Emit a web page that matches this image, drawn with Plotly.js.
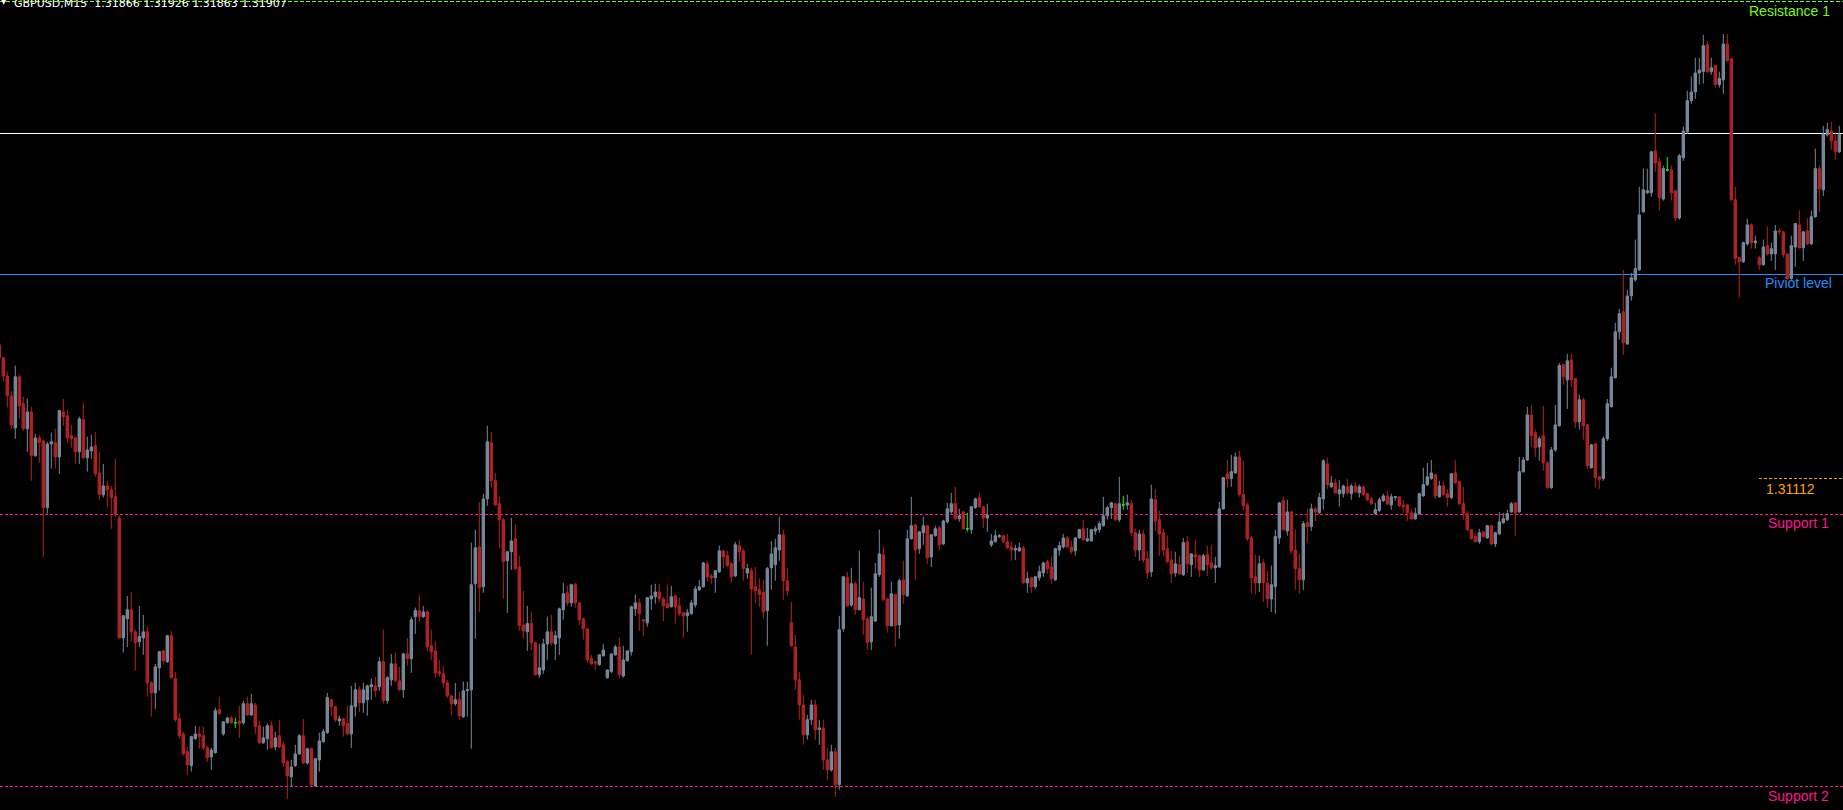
<!DOCTYPE html>
<html>
<head>
<meta charset="utf-8">
<script src="https://cdn.plot.ly/plotly-3.0.1.min.js"></script>
<style>
  html, body { margin: 0; padding: 0; background: #000; overflow: hidden; }
  #chart { width: 1843px; height: 810px; }
  #chart .shapelayer path { shape-rendering: crispEdges; }
</style>
</head>
<body>
<div id="chart"></div>
<script>
// GBPUSD M15 bars, oldest first (the first bar is only partly on screen)
const symbolTitle = 'GBPUSD,M15\u00a0\u00a01.31866 1.31926 1.31863 1.31907';

const openPrice = [
1.31420,1.31390,1.31348,1.31302,1.31228,1.31346,1.31284,1.31226,1.31265,1.31164,
1.31205,1.31198,1.31044,1.31191,1.31194,1.31161,1.31265,1.31256,1.31210,1.31205,
1.31173,1.31247,1.31159,1.31175,1.31187,1.31124,1.31074,1.31094,1.31085,1.31069,
1.31020,1.30743,1.30787,1.30808,1.30757,1.30734,1.30743,1.30757,1.30639,1.30616,
1.30674,1.30713,1.30688,1.30748,1.30649,1.30556,1.30521,1.30480,1.30448,1.30510,
1.30521,1.30517,1.30489,1.30468,1.30478,1.30577,1.30521,1.30547,1.30558,1.30547,
1.30551,1.30547,1.30591,1.30565,1.30588,1.30540,1.30501,1.30510,1.30540,1.30491,
1.30517,1.30496,1.30457,1.30422,1.30448,1.30475,1.30517,1.30454,1.30487,1.30401,
1.30461,1.30503,1.30524,1.30600,1.30584,1.30551,1.30556,1.30545,1.30521,1.30584,
1.30623,1.30593,1.30600,1.30630,1.30632,1.30630,1.30688,1.30598,1.30646,1.30683,
1.30644,1.30623,1.30706,1.30695,1.30792,1.30806,1.30792,1.30803,1.30725,1.30713,
1.30665,1.30660,1.30639,1.30609,1.30591,1.30600,1.30561,1.30621,1.30623,1.30868,
1.30953,1.30861,1.31064,1.31194,1.31106,1.31053,1.31016,1.30921,1.30942,1.30972,
1.30907,1.30773,1.30757,1.30776,1.30732,1.30658,1.30669,1.30729,1.30757,1.30729,
1.30743,1.30808,1.30847,1.30824,1.30866,1.30824,1.30787,1.30764,1.30695,1.30688,
1.30681,1.30702,1.30651,1.30665,1.30704,1.30722,1.30655,1.30690,1.30711,1.30810,
1.30824,1.30785,1.30778,1.30833,1.30838,1.30849,1.30833,1.30822,1.30815,1.30840,
1.30817,1.30801,1.30794,1.30799,1.30819,1.30854,1.30861,1.30914,1.30886,1.30882,
1.30896,1.30944,1.30933,1.30914,1.30886,1.30956,1.30944,1.30893,1.30898,1.30861,
1.30854,1.30849,1.30806,1.30905,1.30912,1.30946,1.30981,1.30875,1.30778,1.30722,
1.30646,1.30588,1.30519,1.30554,1.30588,1.30531,1.30535,1.30461,1.30438,1.30480,
1.30404,1.30764,1.30882,1.30819,1.30868,1.30808,1.30833,1.30787,1.30734,1.30782,
1.30889,1.30935,1.30833,1.30771,1.30843,1.30773,1.30877,1.30840,1.30972,1.31004,
1.30949,1.30986,1.31002,1.30930,1.30979,1.30997,1.30960,1.31011,1.31034,1.31053,
1.31018,1.31034,1.30995,1.30993,1.31044,1.31067,1.31046,1.31020,1.30958,1.30965,
1.30977,1.30979,1.30965,1.30953,1.30946,1.30944,1.30951,1.30870,1.30882,1.30861,
1.30882,1.30893,1.30919,1.30907,1.30877,1.30946,1.30953,1.30974,1.30953,1.30944,
1.30974,1.30995,1.30967,1.30967,1.30990,1.30993,1.31002,1.31025,1.31044,1.31053,
1.31016,1.31050,1.31050,1.31053,1.30986,1.30946,1.30983,1.30926,1.30896,1.31062,
1.31016,1.30986,1.30949,1.30923,1.30893,1.30912,1.30889,1.30965,1.30912,1.30935,
1.30933,1.30900,1.30935,1.30916,1.30905,1.30907,1.31041,1.31122,1.31111,1.31124,
1.31161,1.31074,1.31050,1.30974,1.30884,1.30870,1.30916,1.30870,1.30833,1.30861,
1.30974,1.31060,1.30990,1.31034,1.30946,1.30903,1.30877,1.31009,1.31000,1.31041,
1.31032,1.31064,1.31145,1.31092,1.31101,1.31076,1.31076,1.31092,1.31076,1.31094,
1.31078,1.31092,1.31076,1.31064,1.31030,1.31037,1.31060,1.31071,1.31050,1.31067,
1.31069,1.31050,1.31050,1.31032,1.31018,1.31030,1.31071,1.31097,1.31111,1.31120,
1.31069,1.31094,1.31076,1.31067,1.31124,1.31104,1.31053,1.31030,1.30993,1.30977,
1.30965,1.30988,1.30974,1.31002,1.30960,1.30983,1.31009,1.31016,1.31034,1.31055,
1.31034,1.31127,1.31154,1.31258,1.31217,1.31184,1.31210,1.31147,1.31090,1.31177,
1.31233,1.31374,1.31339,1.31385,1.31342,1.31242,1.31293,1.31235,1.31136,1.31191,
1.31115,1.31111,1.31203,1.31277,1.31344,1.31450,1.31496,1.31422,1.31533,1.31570,
1.31593,1.31727,1.31771,1.31771,1.31868,1.31843,1.31757,1.31824,1.31824,1.31776,
1.31713,1.31852,1.31912,1.31984,1.32004,1.32048,1.32051,1.32113,1.32051,1.32065,
1.32021,1.32032,1.32115,1.32081,1.31755,1.31621,1.31612,1.31653,1.31697,1.31656,
1.31621,1.31605,1.31649,1.31630,1.31630,1.31683,1.31681,1.31630,1.31573,1.31646,
1.31697,1.31644,1.31683,1.31653,1.31716,1.31827,1.31778,1.31905,1.31914,1.31891,
1.31866
];

const highPrice = [
1.31425,1.31392,1.31358,1.31314,1.31372,1.31351,1.31300,1.31295,1.31277,1.31214,
1.31212,1.31201,1.31196,1.31217,1.31226,1.31270,1.31295,1.31270,1.31235,1.31208,
1.31254,1.31286,1.31208,1.31212,1.31219,1.31173,1.31145,1.31106,1.31094,1.31157,
1.31025,1.30796,1.30840,1.30849,1.30762,1.30817,1.30796,1.30769,1.30644,1.30683,
1.30713,1.30715,1.30750,1.30759,1.30665,1.30570,1.30526,1.30491,1.30517,1.30540,
1.30538,1.30538,1.30494,1.30489,1.30582,1.30607,1.30551,1.30561,1.30563,1.30558,
1.30586,1.30598,1.30607,1.30614,1.30593,1.30551,1.30538,1.30545,1.30551,1.30526,
1.30554,1.30503,1.30461,1.30461,1.30496,1.30521,1.30556,1.30489,1.30489,1.30466,
1.30524,1.30533,1.30616,1.30602,1.30586,1.30563,1.30558,1.30586,1.30632,1.30639,
1.30632,1.30639,1.30635,1.30649,1.30653,1.30699,1.30762,1.30655,1.30706,1.30709,
1.30676,1.30709,1.30743,1.30792,1.30813,1.30843,1.30817,1.30808,1.30762,1.30736,
1.30692,1.30679,1.30646,1.30612,1.30639,1.30618,1.30642,1.30642,1.30963,1.30993,
1.31057,1.31076,1.31233,1.31219,1.31124,1.31071,1.31020,1.30944,1.31020,1.31007,
1.30933,1.30852,1.30817,1.30803,1.30734,1.30729,1.30741,1.30792,1.30796,1.30759,
1.30813,1.30870,1.30863,1.30868,1.30870,1.30826,1.30789,1.30766,1.30704,1.30690,
1.30704,1.30729,1.30669,1.30706,1.30727,1.30743,1.30725,1.30713,1.30817,1.30843,
1.30833,1.30787,1.30836,1.30866,1.30868,1.30868,1.30838,1.30866,1.30863,1.30843,
1.30836,1.30803,1.30810,1.30831,1.30863,1.30877,1.30919,1.30921,1.30891,1.30900,
1.30956,1.30946,1.30944,1.30919,1.30965,1.30970,1.30949,1.30914,1.30905,1.30907,
1.30880,1.30877,1.30907,1.30967,1.30972,1.31023,1.30993,1.30905,1.30826,1.30750,
1.30665,1.30612,1.30565,1.30600,1.30600,1.30554,1.30554,1.30489,1.30496,1.30489,
1.30794,1.30886,1.30896,1.30905,1.30873,1.30944,1.30873,1.30792,1.30859,1.30916,
1.30993,1.30953,1.30836,1.30873,1.30845,1.30880,1.30921,1.30993,1.31069,1.31007,
1.30990,1.31023,1.31004,1.30983,1.31002,1.31002,1.31016,1.31055,1.31078,1.31092,
1.31041,1.31037,1.31032,1.31048,1.31067,1.31078,1.31048,1.31053,1.30983,1.30993,
1.30983,1.30981,1.30983,1.30967,1.30958,1.30963,1.30956,1.30896,1.30884,1.30886,
1.30910,1.30919,1.30923,1.30930,1.30951,1.30965,1.30983,1.30979,1.30967,1.30976,
1.30995,1.31016,1.30997,1.30995,1.31002,1.31013,1.31069,1.31048,1.31057,1.31055,
1.31115,1.31071,1.31074,1.31062,1.30995,1.30993,1.30993,1.30944,1.31097,1.31087,
1.31037,1.30995,1.30979,1.30944,1.30942,1.30933,1.30974,1.30979,1.30939,1.30970,
1.30935,1.30937,1.30956,1.30958,1.30930,1.31057,1.31115,1.31154,1.31166,1.31171,
1.31175,1.31152,1.31055,1.30979,1.30935,1.30933,1.30926,1.30898,1.30910,1.30993,
1.31057,1.31069,1.31062,1.31037,1.30993,1.30937,1.31013,1.31041,1.31053,1.31046,
1.31078,1.31156,1.31159,1.31117,1.31111,1.31108,1.31097,1.31111,1.31099,1.31104,
1.31097,1.31094,1.31078,1.31069,1.31055,1.31067,1.31076,1.31083,1.31076,1.31071,
1.31071,1.31062,1.31053,1.31041,1.31044,1.31078,1.31136,1.31147,1.31154,1.31122,
1.31106,1.31106,1.31087,1.31124,1.31154,1.31106,1.31092,1.31037,1.30995,1.30986,
1.30995,1.30990,1.31004,1.31004,1.30988,1.31034,1.31032,1.31039,1.31057,1.31057,
1.31161,1.31161,1.31277,1.31281,1.31224,1.31208,1.31279,1.31152,1.31184,1.31281,
1.31378,1.31376,1.31399,1.31399,1.31344,1.31305,1.31298,1.31238,1.31191,1.31194,
1.31117,1.31208,1.31295,1.31367,1.31471,1.31503,1.31593,1.31547,1.31586,1.31663,
1.31785,1.31827,1.31827,1.31868,1.31954,1.31852,1.31834,1.31854,1.31834,1.31778,
1.31861,1.31924,1.32007,1.32039,1.32083,1.32083,1.32136,1.32122,1.32083,1.32067,
1.32051,1.32138,1.32138,1.32083,1.31785,1.31623,1.31658,1.31711,1.31700,1.31672,
1.31626,1.31663,1.31693,1.31656,1.31697,1.31688,1.31683,1.31633,1.31672,1.31702,
1.31730,1.31683,1.31713,1.31730,1.31873,1.31834,1.31926,1.31933,1.31935,1.31912,
1.31926
];

const lowPrice = [
1.31385,1.31335,1.31275,1.31226,1.31203,1.31251,1.31221,1.31173,1.31106,1.31161,
1.31147,1.30930,1.31030,1.31134,1.31134,1.31122,1.31233,1.31194,1.31182,1.31145,
1.31145,1.31157,1.31127,1.31157,1.31115,1.31062,1.31067,1.31046,1.30995,1.31023,
1.30741,1.30709,1.30722,1.30734,1.30667,1.30722,1.30704,1.30607,1.30561,1.30579,
1.30621,1.30681,1.30685,1.30649,1.30549,1.30510,1.30471,1.30427,1.30434,1.30508,
1.30487,1.30484,1.30457,1.30438,1.30475,1.30565,1.30517,1.30545,1.30545,1.30535,
1.30512,1.30542,1.30563,1.30563,1.30521,1.30498,1.30498,1.30484,1.30487,1.30484,
1.30489,1.30445,1.30371,1.30399,1.30445,1.30473,1.30452,1.30450,1.30401,1.30399,
1.30434,1.30501,1.30521,1.30563,1.30549,1.30540,1.30515,1.30519,1.30489,1.30561,
1.30572,1.30570,1.30563,1.30600,1.30607,1.30621,1.30591,1.30591,1.30632,1.30642,
1.30621,1.30605,1.30679,1.30662,1.30752,1.30780,1.30789,1.30713,1.30692,1.30651,
1.30653,1.30628,1.30605,1.30565,1.30586,1.30554,1.30558,1.30561,1.30487,1.30741,
1.30803,1.30847,1.31048,1.31090,1.31048,1.30951,1.30833,1.30801,1.30900,1.30900,
1.30759,1.30741,1.30713,1.30715,1.30655,1.30651,1.30660,1.30692,1.30725,1.30692,
1.30704,1.30785,1.30817,1.30815,1.30813,1.30773,1.30739,1.30685,1.30681,1.30669,
1.30679,1.30699,1.30649,1.30662,1.30702,1.30651,1.30651,1.30688,1.30702,1.30794,
1.30759,1.30746,1.30769,1.30808,1.30822,1.30826,1.30782,1.30810,1.30813,1.30776,
1.30794,1.30743,1.30757,1.30796,1.30813,1.30852,1.30859,1.30873,1.30868,1.30847,
1.30893,1.30905,1.30907,1.30870,1.30884,1.30919,1.30875,1.30880,1.30704,1.30824,
1.30815,1.30789,1.30725,1.30854,1.30875,1.30921,1.30831,1.30840,1.30722,1.30623,
1.30554,1.30496,1.30508,1.30542,1.30508,1.30496,1.30438,1.30415,1.30434,1.30376,
1.30392,1.30757,1.30815,1.30815,1.30796,1.30806,1.30750,1.30715,1.30715,1.30780,
1.30884,1.30829,1.30755,1.30769,1.30722,1.30741,1.30822,1.30838,1.30970,1.30877,
1.30937,1.30958,1.30914,1.30907,1.30977,1.30946,1.30958,1.31007,1.31030,1.31016,
1.31011,1.30993,1.30988,1.30983,1.31041,1.31044,1.30997,1.30988,1.30953,1.30963,
1.30974,1.30963,1.30949,1.30921,1.30923,1.30942,1.30868,1.30847,1.30847,1.30856,
1.30875,1.30884,1.30891,1.30868,1.30875,1.30933,1.30949,1.30951,1.30937,1.30933,
1.30972,1.30967,1.30965,1.30965,1.30981,1.30986,1.31000,1.31016,1.31018,1.31013,
1.31011,1.31039,1.31039,1.30979,1.30930,1.30921,1.30916,1.30880,1.30884,1.30990,
1.30933,1.30933,1.30916,1.30870,1.30884,1.30889,1.30886,1.30893,1.30884,1.30903,
1.30884,1.30898,1.30886,1.30900,1.30870,1.30905,1.31039,1.31090,1.31092,1.31122,
1.31069,1.31037,1.30967,1.30845,1.30843,1.30849,1.30826,1.30813,1.30803,1.30799,
1.30960,1.30990,1.30979,1.30937,1.30854,1.30845,1.30854,1.30963,1.30990,1.31013,
1.31030,1.31039,1.31087,1.31090,1.31076,1.31046,1.31067,1.31074,1.31062,1.31078,
1.31067,1.31071,1.31060,1.31050,1.31027,1.31034,1.31057,1.31050,1.31039,1.31060,
1.31046,1.31032,1.31013,1.31016,1.31016,1.31027,1.31069,1.31094,1.31108,1.31064,
1.31067,1.31071,1.31046,1.31064,1.31099,1.31050,1.31016,1.30990,1.30970,1.30963,
1.30960,1.30974,1.30972,1.30956,1.30953,1.30981,1.31007,1.31013,1.31032,1.30979,
1.31032,1.31124,1.31152,1.31184,1.31161,1.31152,1.31129,1.31087,1.31087,1.31173,
1.31231,1.31328,1.31272,1.31323,1.31228,1.31224,1.31201,1.31134,1.31134,1.31090,
1.31087,1.31106,1.31198,1.31275,1.31342,1.31432,1.31397,1.31420,1.31522,1.31566,
1.31591,1.31725,1.31769,1.31762,1.31820,1.31730,1.31753,1.31820,1.31753,1.31706,
1.31709,1.31845,1.31907,1.31977,1.31988,1.32021,1.32023,1.32048,1.32044,1.32014,
1.32014,1.32000,1.32074,1.31753,1.31605,1.31529,1.31609,1.31649,1.31642,1.31642,
1.31593,1.31603,1.31626,1.31614,1.31593,1.31674,1.31621,1.31570,1.31570,1.31600,
1.31642,1.31614,1.31651,1.31651,1.31713,1.31727,1.31764,1.31901,1.31870,1.31847,
1.31863
];

const closePrice = [
1.31390,1.31348,1.31302,1.31235,1.31346,1.31279,1.31226,1.31265,1.31164,1.31205,
1.31194,1.31044,1.31191,1.31196,1.31161,1.31268,1.31254,1.31205,1.31203,1.31173,
1.31249,1.31159,1.31177,1.31184,1.31122,1.31074,1.31094,1.31085,1.31067,1.31027,
1.30743,1.30794,1.30808,1.30757,1.30732,1.30746,1.30757,1.30639,1.30616,1.30676,
1.30711,1.30690,1.30748,1.30651,1.30554,1.30517,1.30475,1.30450,1.30515,1.30521,
1.30515,1.30489,1.30466,1.30484,1.30575,1.30568,1.30549,1.30558,1.30547,1.30547,
1.30545,1.30591,1.30565,1.30591,1.30538,1.30501,1.30512,1.30540,1.30489,1.30512,
1.30491,1.30454,1.30424,1.30445,1.30475,1.30517,1.30454,1.30487,1.30404,1.30464,
1.30505,1.30526,1.30605,1.30584,1.30554,1.30556,1.30540,1.30521,1.30586,1.30623,
1.30593,1.30623,1.30632,1.30635,1.30621,1.30688,1.30598,1.30651,1.30683,1.30644,
1.30623,1.30706,1.30695,1.30785,1.30806,1.30792,1.30803,1.30722,1.30711,1.30662,
1.30660,1.30639,1.30609,1.30591,1.30600,1.30563,1.30621,1.30623,1.30866,1.30951,
1.30859,1.31064,1.31196,1.31106,1.31050,1.31016,1.30919,1.30942,1.30967,1.30903,
1.30771,1.30759,1.30776,1.30732,1.30658,1.30674,1.30729,1.30757,1.30732,1.30748,
1.30810,1.30845,1.30824,1.30866,1.30824,1.30785,1.30764,1.30692,1.30683,1.30685,
1.30704,1.30715,1.30669,1.30706,1.30722,1.30658,1.30692,1.30713,1.30815,1.30824,
1.30799,1.30782,1.30836,1.30840,1.30849,1.30833,1.30817,1.30813,1.30838,1.30815,
1.30799,1.30794,1.30801,1.30824,1.30856,1.30861,1.30916,1.30884,1.30882,1.30898,
1.30944,1.30930,1.30910,1.30884,1.30958,1.30942,1.30903,1.30903,1.30856,1.30852,
1.30843,1.30803,1.30903,1.30937,1.30951,1.30981,1.30875,1.30852,1.30725,1.30646,
1.30588,1.30519,1.30554,1.30588,1.30531,1.30535,1.30461,1.30438,1.30480,1.30404,
1.30762,1.30884,1.30817,1.30868,1.30808,1.30836,1.30785,1.30732,1.30792,1.30891,
1.30937,1.30831,1.30771,1.30845,1.30771,1.30875,1.30843,1.30972,1.31002,1.30946,
1.30988,1.31002,1.30928,1.30981,1.30995,1.30958,1.31013,1.31041,1.31053,1.31018,
1.31025,1.30995,1.30995,1.31046,1.31064,1.31046,1.31020,1.31027,1.30967,1.30979,
1.30979,1.30965,1.30951,1.30946,1.30949,1.30951,1.30870,1.30880,1.30861,1.30884,
1.30896,1.30916,1.30903,1.30880,1.30949,1.30956,1.30974,1.30953,1.30942,1.30974,
1.30993,1.30970,1.30972,1.30993,1.30995,1.31007,1.31025,1.31044,1.31055,1.31016,
1.31053,1.31050,1.31055,1.30986,1.30946,1.30983,1.30923,1.30893,1.31064,1.31013,
1.30983,1.30946,1.30919,1.30891,1.30914,1.30891,1.30963,1.30914,1.30937,1.30930,
1.30900,1.30933,1.30912,1.30905,1.30910,1.31041,1.31113,1.31111,1.31127,1.31161,
1.31074,1.31048,1.30972,1.30882,1.30870,1.30914,1.30870,1.30833,1.30866,1.30977,
1.31055,1.30993,1.31034,1.30944,1.30903,1.30877,1.31007,1.31000,1.31041,1.31034,
1.31067,1.31152,1.31097,1.31101,1.31078,1.31085,1.31094,1.31078,1.31094,1.31080,
1.31092,1.31074,1.31062,1.31053,1.31039,1.31062,1.31071,1.31053,1.31069,1.31069,
1.31048,1.31046,1.31032,1.31018,1.31030,1.31076,1.31097,1.31115,1.31124,1.31071,
1.31094,1.31074,1.31067,1.31122,1.31101,1.31053,1.31030,1.30993,1.30972,1.30965,
1.30986,1.30977,1.31002,1.30960,1.30986,1.31011,1.31018,1.31030,1.31053,1.31032,
1.31127,1.31154,1.31258,1.31210,1.31182,1.31203,1.31147,1.31090,1.31177,1.31235,
1.31372,1.31346,1.31383,1.31339,1.31242,1.31293,1.31233,1.31141,1.31189,1.31113,
1.31108,1.31203,1.31284,1.31346,1.31450,1.31492,1.31425,1.31533,1.31575,1.31596,
1.31720,1.31778,1.31776,1.31866,1.31840,1.31760,1.31827,1.31824,1.31771,1.31713,
1.31857,1.31914,1.31984,1.32004,1.32048,1.32055,1.32111,1.32051,1.32060,1.32021,
1.32035,1.32115,1.32076,1.31755,1.31619,1.31612,1.31656,1.31697,1.31656,1.31660,
1.31605,1.31646,1.31630,1.31642,1.31683,1.31681,1.31628,1.31573,1.31649,1.31700,
1.31644,1.31681,1.31653,1.31716,1.31827,1.31780,1.31907,1.31917,1.31891,1.31866,
1.31907
];

// Daily pivot levels drawn across the chart
const resistance1 = 1.32213;
const pivotLevel = 1.31583;
const support1 = 1.31029;
const support2 = 1.30399;
const markedLevel = 1.31112;
const levelNames = ['Resistance 1', 'Piviot level', 'Support 1', 'Support 2'];
const markedLevelText = '1.31112';

const bullColor = '#778899';
const bearColor = '#B22222';
const dojiColor = '#00FF00';

const barIndex = openPrice.map((_, k) => k);
const lastClose = closePrice[closePrice.length - 1];

// Bars whose open equals close are drawn in the doji colour
const isDoji = openPrice.map((o, k) => o === closePrice[k]);
const pick = (arr, want) => arr.map((v, k) => (isDoji[k] === want ? v : null));

const bars = {
  type: 'candlestick',
  x: barIndex,
  open: pick(openPrice, false), high: pick(highPrice, false),
  low: pick(lowPrice, false), close: pick(closePrice, false),
  increasing: { line: { color: bullColor, width: 1 }, fillcolor: bullColor },
  decreasing: { line: { color: bearColor, width: 1 }, fillcolor: bearColor },
  whiskerwidth: 0,
  hoverinfo: 'skip'
};

const dojiBars = {
  type: 'candlestick',
  x: barIndex,
  open: pick(openPrice, true), high: pick(highPrice, true),
  low: pick(lowPrice, true), close: pick(closePrice, true),
  increasing: { line: { color: dojiColor, width: 1 }, fillcolor: dojiColor },
  decreasing: { line: { color: dojiColor, width: 1 }, fillcolor: dojiColor },
  whiskerwidth: 0,
  hoverinfo: 'skip'
};

function hLine(y, color, dash, x0) {
  return {
    type: 'line', xref: 'paper', yref: 'y', x0: x0 === undefined ? 0 : x0, x1: 1,
    y0: y, y1: y, layer: 'below',
    line: { color: color, width: 1, dash: dash }
  };
}

const labelFont = (color, size) => ({ family: 'Liberation Sans, Arial, sans-serif', size: size, color: color });

function levelLabel(text, y, color, xPix, anchor, size, shift) {
  return {
    text: text, xref: 'paper', yref: 'y', x: xPix / 1843, y: y,
    xanchor: anchor, yanchor: 'top', yshift: shift, showarrow: false,
    borderpad: 0, font: labelFont(color, size)
  };
}

const layout = {
  width: 1843, height: 810,
  margin: { l: 0, r: 0, t: 0, b: 0 },
  paper_bgcolor: '#000000', plot_bgcolor: '#000000',
  showlegend: false,
  boxgap: 0.3, boxgroupgap: 0.15,
  xaxis: { range: [0.175, 460.925], visible: false, showgrid: false, zeroline: false,
           rangeslider: { visible: false }, fixedrange: true },
  yaxis: { range: [1.303454, 1.322165], visible: false, showgrid: false, zeroline: false, fixedrange: true },
  shapes: [
    hLine(resistance1, '#7CFC00', '4px,2px'),
    hLine(lastClose, '#FFFFFF', 'solid'),
    hLine(pivotLevel, '#1E90FF', 'solid'),
    hLine(markedLevel, '#FFA500', '3px,2px', 1759 / 1843),
    hLine(support1, '#FF1493', '3px,2px'),
    hLine(support2, '#FF1493', '3px,2px')
  ],
  annotations: [
    { text: symbolTitle, xref: 'paper', yref: 'paper', x: 13 / 1843, y: 1,
      xanchor: 'left', yanchor: 'top', yshift: 4, showarrow: false, borderpad: 0,
      font: { family: 'DejaVu Sans, sans-serif', size: 11, color: '#FFFFFF' } },
    { text: '\u25BC', xref: 'paper', yref: 'paper', x: 0, y: 1,
      xanchor: 'left', yanchor: 'top', yshift: 3, showarrow: false, borderpad: 0,
      font: { family: 'DejaVu Sans, sans-serif', size: 7, color: '#FFFFFF' } },
    levelLabel(levelNames[0], resistance1, '#7CFC00', 1831, 'right', 14, 0),
    levelLabel(levelNames[1], pivotLevel, '#1E90FF', 1833, 'right', 14, 0),
    levelLabel(markedLevelText, markedLevel, '#FFA500', 1765, 'left', 14, -2),
    levelLabel(levelNames[2], support1, '#FF1493', 1830, 'right', 14, 0),
    levelLabel(levelNames[3], support2, '#FF1493', 1830, 'right', 14, 0)
  ]
};

Plotly.newPlot('chart', [bars, dojiBars], layout, { staticPlot: true, displayModeBar: false });
</script>
</body>
</html>
